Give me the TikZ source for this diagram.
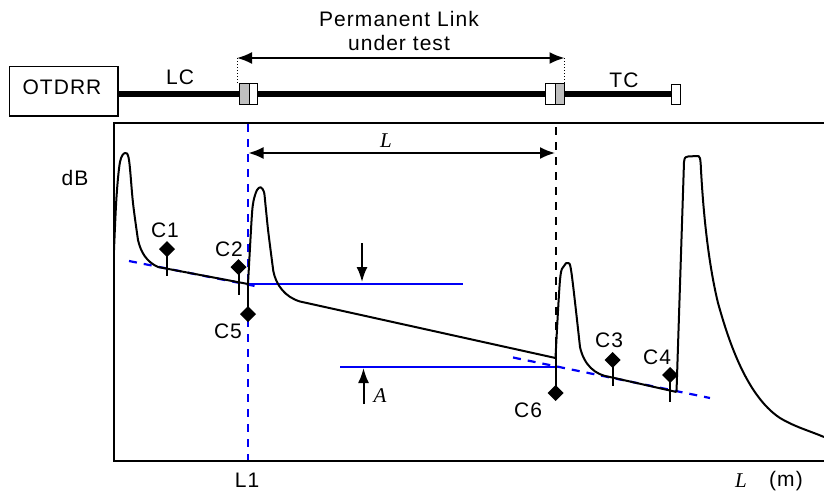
\documentclass[tikz,border=0pt]{standalone}
\usepackage{fontspec}
\setmainfont{Liberation Sans}[LetterSpace=5]
\newfontfamily\serifit{Liberation Serif}[ItalicFont=Liberation Serif Italic]
\usetikzlibrary{arrows.meta}
\definecolor{plotblue}{RGB}{0,0,245}
\tikzset{
  lab/.style={inner sep=0pt,font=\fontsize{21}{24}\selectfont},
  ital/.style={inner sep=0pt,font=\fontsize{21}{24}\selectfont\serifit\itshape},
  fibre/.style={line width=6pt},
  conn/.style={draw,line width=1.3pt,minimum height=20.5pt,inner sep=0pt,anchor=west},
  curve/.style={line width=2pt,line join=round},
  stem/.style={line width=2pt},
  bsolid/.style={plotblue,line width=2.3pt},
  bdash/.style={plotblue,line width=2.2pt,dash pattern=on 8pt off 7pt},
  dimarrow/.style={line width=1.8pt,{Latex[length=15pt,width=12pt]}-{Latex[length=15pt,width=12pt]}},
  onearrow/.style={line width=2pt,-{Latex[length=15pt,width=11pt]}},
}
\newcommand{\markdia}[3]{\fill (#2-8,#3) -- (#2,#3-8) -- (#2+8,#3) -- (#2,#3+8) -- cycle; \coordinate (#1) at (#2,#3);}
\begin{document}
\begin{tikzpicture}[x=1pt,y=-1pt]
\useasboundingbox (0,0) rectangle (824,498);
% top link
\node[draw,line width=1.4pt,minimum width=108.5pt,minimum height=49.5pt,inner sep=0pt] (otdr) at (63.75,91.25) {};
\node[lab] (otdrt) at (62,87) {OTDRR};
\coordinate (endl) at (671,93.5);
\draw[fibre] (otdr.east |- endl) -- (endl);
\node[conn,fill=gray!50,minimum width=10pt] (c1a) at (239,94) {};
\node[conn,fill=white,minimum width=8pt] (c1b) at (249,94) {};
\node[conn,fill=white,minimum width=9.5pt] (c2a) at (545,94) {};
\node[conn,fill=gray!50,minimum width=9.5pt] (c2b) at (554.5,94) {};
\node[conn,fill=white,minimum width=8.5pt] (c3) at (671,94.5) {};
\coordinate (pl) at (237,58);
\coordinate (pr) at (564.5,58);
\draw[line width=1pt,dotted] (pl) -- (237,84);
\draw[line width=1pt,dotted] (pr) -- (564.5,84);
\draw[dimarrow] (pl) -- (pr);
\node[lab,align=center] (perm) at (399,31) {Permanent Link\\under test};
\node[lab] (lc) at (180,77) {LC};
\node[lab] (tc) at (624,80) {TC};
% frame
\coordinate (tl) at (114,123);
\coordinate (bl) at (114,460.5);
\draw[line width=2pt] (824,123) -- (tl) -- (bl) -- (824,460.5);
% verticals
\draw[plotblue,line width=2.2pt,dash pattern=on 8pt off 7pt] (248,124) -- (248,460);
\draw[line width=2.2pt,dash pattern=on 8pt off 7pt] (556,127) -- (556,358);
% blue lines
\draw[bdash] (129,261) -- (260,287);
\draw[bdash] (513,357.5) -- (710,398);
\draw[bsolid] (248,284) -- (463,284);
\draw[bsolid] (340,367) -- (555,367);
% trace
\draw[curve] plot[smooth,tension=0.55] coordinates {(114,250) (116.5,197) (120,162) (125,153) (129,160) (133,203) (138,240)};
\draw[curve] (138,240) .. controls (141,253) and (147,262) .. (158,267) -- (248,284);
\draw[curve] plot[smooth,tension=0.5] coordinates {(248,284) (251.7,218) (253.5,201) (257,190) (260.7,187.3) (264,192) (265.5,205) (268.3,232) (273.3,271)};
\draw[curve] (273.3,271) .. controls (276,285) and (285,297) .. (300,301.5) -- (555.5,358);
\draw[curve] plot[smooth,tension=0.55] coordinates {(555.5,358) (560,280) (564,266) (568,263) (571.5,273) (580,347)};
\draw[curve] (580,347) .. controls (584,365) and (595,375) .. (610,377) -- (676.5,392);
\draw[curve] (676.5,392) -- (684,162) .. controls (684.5,157) and (686,156.5) .. (688,156.5) -- (697,156) .. controls (700,155.5) and (700.5,158) .. (701,170);
\draw[curve] (701,170) .. controls (704,225) and (710,270) .. (718,303) .. controls (727,335) and (745,395) .. (780,418) .. controls (795,427) and (810,431) .. (824,437);
% markers
\markdia{d1}{167}{249}
\markdia{d2}{238.5}{267}
\markdia{d5}{248}{314}
\markdia{d6}{555.5}{393}
\markdia{d3}{612.5}{360}
\markdia{d4}{670}{375}
\draw[stem] (d1) -- (167,276);
\draw[stem] (d2) -- (238.5,295);
\draw[stem] (d5) -- (248,284);
\draw[stem] (d6) -- (555.5,358);
\draw[stem] (d3) -- (612.5,386);
\draw[stem] (d4) -- (670,402);
\node[lab] (c1l) at (165,230) {C1};
\node[lab] (c2l) at (229,249) {C2};
\node[lab] (c5l) at (228,331) {C5};
\node[lab] (c6l) at (528,410) {C6};
\node[lab] (c3l) at (609,340) {C3};
\node[lab] (c4l) at (657,357) {C4};
% arrows
\coordinate (la) at (248.5,153);
\coordinate (lb) at (555,153);
\draw[dimarrow] (la) -- (lb);
\node[ital] (ll) at (386,141) {L};
\coordinate (a1) at (362,243);
\coordinate (a1e) at (362,282);
\coordinate (a2) at (363.5,404);
\coordinate (a2e) at (363.5,368);
\draw[onearrow] (a1) -- (a1e);
\draw[onearrow] (a2) -- (a2e);
\node[ital] (al) at (380,396) {A};
% axis labels
\node[lab] (db) at (75,178) {dB};
\node[lab] (l1) at (247,480) {L1};
\node[ital] (lx) at (741,481) {L};
\node[lab] (m) at (786,481) {(m)};
\end{tikzpicture}
\end{document}
